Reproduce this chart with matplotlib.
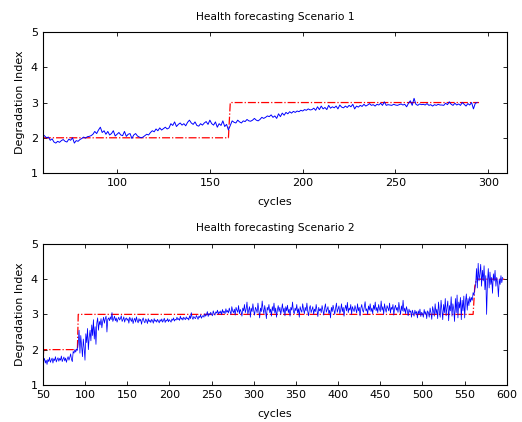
import numpy as np
import matplotlib
matplotlib.use('Agg')
import matplotlib.pyplot as plt

### DATA - scenario 1 (one value per cycle, 60..294)
cyc1 = np.arange(60, 295)
deg1 = [
    2.10, 2.05, 2.00, 2.02, 1.93, 1.97, 1.88, 1.85, 1.90, 1.87,
    1.92, 1.95, 1.90, 1.88, 1.96, 1.93, 2.00, 1.85, 1.92, 1.90,
    1.95, 1.98, 2.02, 1.99, 2.03, 2.04, 2.06, 2.10, 2.18, 2.12,
    2.22, 2.30, 2.15, 2.20, 2.10, 2.18, 2.08, 2.12, 2.20, 2.05,
    2.10, 2.15, 2.08, 2.06, 2.18, 2.04, 2.10, 2.12, 1.98, 2.08,
    2.12, 2.05, 2.02, 2.00, 2.02, 2.06, 2.10, 2.08, 2.15, 2.20,
    2.17, 2.25, 2.20, 2.28, 2.22, 2.26, 2.30, 2.25, 2.28, 2.40,
    2.35, 2.45, 2.32, 2.38, 2.42, 2.36, 2.40, 2.34, 2.44, 2.50,
    2.42, 2.38, 2.45, 2.35, 2.33, 2.40, 2.36, 2.42, 2.46, 2.38,
    2.50, 2.40, 2.36, 2.45, 2.30, 2.40, 2.35, 2.48, 2.32, 2.38,
    2.22, 2.35, 2.48, 2.44, 2.42, 2.50, 2.45, 2.42, 2.48, 2.46,
    2.52, 2.48, 2.47, 2.50, 2.55, 2.50, 2.48, 2.52, 2.58, 2.55,
    2.58, 2.62, 2.60, 2.65, 2.58, 2.62, 2.55, 2.68, 2.60, 2.70,
    2.64, 2.72, 2.68, 2.74, 2.70, 2.75, 2.72, 2.76, 2.74, 2.78,
    2.76, 2.80, 2.78, 2.82, 2.79, 2.80, 2.84, 2.78, 2.88, 2.80,
    2.90, 2.82, 2.86, 2.80, 2.92, 2.84, 2.88, 2.85, 2.90, 2.82,
    2.93, 2.87, 2.85, 2.90, 2.86, 2.92, 2.88, 2.95, 2.82, 2.90,
    2.87, 2.92, 2.89, 2.95, 2.90, 2.93, 2.97, 2.92, 2.94, 2.90,
    2.95, 2.93, 2.98, 2.92, 3.02, 2.92, 2.94, 2.93, 2.92, 2.95,
    2.93, 2.92, 2.94, 2.96, 2.93, 2.95, 2.88, 2.98, 3.05, 2.92,
    3.12, 2.95, 2.92, 2.96, 2.94, 2.95, 2.93, 2.97, 2.92, 2.94,
    2.90, 2.94, 2.92, 2.95, 2.93, 2.93, 2.92, 2.98, 2.94, 3.02,
    2.95, 2.92, 2.98, 2.93, 2.96, 2.92, 3.00, 2.95, 2.90, 2.97,
    2.93, 3.00, 2.82, 2.98, 3.00,
]
ref1_x = [60, 160, 161, 295]
ref1_y = [2, 2, 3, 3]

### DATA - scenario 2 (one value per cycle, 50..595)
cyc2 = np.arange(50, 596)
deg2 = [
    1.52, 1.68, 1.75, 1.62, 1.70, 1.58, 1.72, 1.66, 1.78, 1.64,
    1.70, 1.76, 1.62, 1.74, 1.69, 1.80, 1.65, 1.72, 1.77, 1.67,
    1.75, 1.70, 1.82, 1.66, 1.73, 1.79, 1.68, 1.76, 1.64, 1.74,
    1.80, 1.70, 1.78, 1.88, 1.72, 1.66, 1.95, 1.90, 2.00, 1.93,
    2.02, 1.98, 2.20, 2.55, 1.90, 2.40, 2.10, 1.80, 2.30, 2.05,
    1.70, 2.45, 2.20, 2.60, 2.00, 2.35, 2.55, 2.25, 2.70, 2.40,
    2.85, 2.30, 2.65, 2.15, 2.75, 2.90, 2.55, 2.80, 2.70, 2.88,
    2.62, 2.80, 2.92, 2.75, 2.88, 2.95, 2.50, 2.86, 2.90, 2.82,
    2.93, 2.85, 3.05, 2.80, 2.88, 2.95, 2.82, 2.90, 2.78, 2.86,
    2.92, 2.84, 2.88, 2.96, 2.80, 2.85, 2.93, 2.78, 2.87, 2.90,
    2.83, 2.88, 2.75, 2.92, 2.86, 2.80, 2.90, 2.74, 2.84, 2.89,
    2.78, 2.93, 2.82, 2.76, 2.88, 2.81, 2.86, 2.72, 2.85, 2.90,
    2.80, 2.76, 2.87, 2.83, 2.74, 2.88, 2.79, 2.84, 2.77, 2.86,
    2.82, 2.75, 2.88, 2.80, 2.84, 2.78, 2.86, 2.81, 2.76, 2.85,
    2.80, 2.87, 2.78, 2.83, 2.89, 2.77, 2.84, 2.81, 2.88, 2.79,
    2.85, 2.82, 2.78, 2.87, 2.83, 2.90, 2.81, 2.86, 2.84, 2.92,
    2.85, 2.88, 2.83, 2.95, 2.86, 2.90, 2.84, 2.92, 2.88, 2.85,
    2.93, 2.87, 2.90, 2.84, 2.96, 2.88, 3.05, 2.91, 2.86, 2.94,
    2.90, 2.88, 2.97, 2.92, 2.86, 2.95, 2.91, 2.99, 2.89, 2.94,
    2.97, 2.92, 3.02, 2.95, 2.99, 3.08, 2.94, 3.03, 2.98, 3.06,
    3.00, 2.96, 3.10, 3.02, 2.98, 3.07, 3.04, 3.12, 3.00, 3.08,
    3.03, 3.10, 2.99, 3.14, 3.05, 3.09, 3.02, 3.16, 3.06, 3.11,
    3.04, 3.18, 3.08, 3.00, 3.22, 3.10, 3.05, 3.15, 2.98, 3.20,
    3.12, 3.06, 3.25, 3.02, 3.14, 3.08, 2.95, 3.18, 3.10, 3.28,
    3.05, 3.15, 3.35, 3.00, 3.12, 3.22, 2.92, 3.18, 3.08, 3.30,
    3.10, 2.98, 3.20, 3.14, 3.05, 3.32, 3.12, 2.90, 3.18, 3.08,
    3.38, 3.15, 3.02, 3.25, 3.10, 2.88, 3.20, 3.12, 3.28, 3.05,
    3.15, 2.95, 3.22, 3.10, 3.32, 3.04, 3.18, 2.92, 3.12, 3.25,
    3.08, 3.20, 3.00, 3.14, 3.30, 3.06, 3.18, 2.96, 3.22, 3.10,
    3.26, 3.05, 3.15, 2.95, 3.20, 3.12, 3.35, 3.08, 3.02, 3.18,
    3.10, 3.28, 3.04, 3.16, 2.92, 3.22, 3.12, 3.06, 3.30, 3.14,
    3.02, 3.20, 3.10, 3.32, 3.08, 2.96, 3.18, 3.25, 3.05, 3.14,
    3.22, 3.00, 3.15, 3.08, 3.28, 3.12, 2.94, 3.20, 3.10, 3.16,
    3.05, 3.25, 3.12, 2.98, 3.18, 3.30, 3.06, 3.14, 3.22, 3.02,
    3.12, 2.90, 3.20, 3.08, 3.26, 3.14, 3.00, 3.18, 3.32, 3.06,
    3.15, 3.24, 3.02, 3.12, 3.30, 3.08, 3.20, 2.95, 3.16, 3.26,
    3.10, 3.34, 3.05, 3.18, 3.12, 3.28, 3.00, 3.22, 3.14, 3.08,
    3.25, 3.15, 3.04, 3.30, 3.10, 3.20, 2.96, 3.18, 3.28, 3.12,
    3.06, 3.22, 3.36, 3.10, 3.16, 3.00, 3.24, 3.12, 3.30, 3.08,
    3.18, 3.02, 3.26, 3.14, 3.35, 3.10, 3.20, 3.05, 3.28, 3.16,
    3.08, 3.38, 3.12, 3.22, 3.00, 3.30, 3.15, 3.06, 3.25, 3.18,
    3.10, 3.32, 3.04, 3.20, 3.14, 3.28, 2.98, 3.18, 3.26, 3.12,
    3.20, 3.06, 3.34, 3.15, 3.00, 3.24, 3.10, 3.40, 3.08, 3.18,
    3.02, 3.22, 3.12, 2.96, 3.15, 3.06, 3.10, 2.92, 3.12, 3.04,
    2.95, 3.12, 3.02, 3.08, 2.90, 3.10, 3.00, 3.15, 2.94, 3.06,
    3.02, 2.92, 3.14, 3.00, 3.08, 2.88, 3.10, 3.05, 2.92, 3.18,
    3.04, 2.86, 3.22, 3.10, 2.95, 3.30, 3.02, 3.15, 2.88, 3.35,
    3.08, 2.92, 3.40, 3.12, 2.85, 3.28, 3.05, 3.45, 2.96, 3.20,
    3.38, 2.82, 3.25, 3.10, 3.50, 2.95, 3.30, 3.15, 2.80, 3.45,
    3.05, 3.55, 2.90, 3.35, 3.18, 3.48, 2.85, 3.40, 3.10, 3.52,
    2.90, 3.38, 3.58, 3.12, 3.45, 3.25, 3.50, 3.35, 3.48, 3.40,
    3.62, 3.55, 3.72, 3.85, 4.30, 3.75, 4.45, 3.95, 4.15, 4.42,
    3.80, 4.25, 3.95, 4.38, 3.70, 4.10, 3.00, 3.90, 4.30, 3.75,
    4.20, 3.85, 4.05, 3.60, 4.15, 3.95, 4.25, 3.80, 4.05, 3.90,
    3.50, 4.00, 3.85, 4.10, 3.90, 4.05,
]
ref2_x = [50, 51, 91, 92, 560, 562, 564, 597]
ref2_y = [1.5, 2, 2, 3, 3, 3.8, 4, 4]

plt.rcParams['font.family'] = ['DejaVu Sans']
plt.rcParams['font.size'] = 8

fig = plt.figure(figsize=(5.22, 4.22), dpi=100)
ax1 = fig.add_axes([0.082, 0.590, 0.889, 0.334])
ax2 = fig.add_axes([0.082, 0.088, 0.889, 0.334])

panels = [
    (ax1, cyc1, deg1, ref1_x, ref1_y, (60, 310), [100, 150, 200, 250, 300], 'Health forecasting Scenario 1', 0.7),
    (ax2, cyc2, deg2, ref2_x, ref2_y, (50, 600), list(range(50, 601, 50)), 'Health forecasting Scenario 2', 0.55),
]

for ax, cx, dg, rx, ry, xl, xt, title, lw in panels:
    ax.plot(rx, ry, color='red', linestyle='-.', linewidth=0.9)
    ax.plot(cx, dg[:len(cx)], color='blue', linewidth=lw)
    ax.set_xlim(*xl)
    ax.set_ylim(1, 5)
    ax.set_xticks(xt)
    ax.set_yticks([1, 2, 3, 4, 5])
    ax.tick_params(direction='in', top=True, right=True, length=3, width=0.6, labelsize=8)
    for s in ax.spines.values():
        s.set_linewidth(0.8)
    ax.set_title(title, fontsize=7.7, pad=9)
    ax.set_xlabel('cycles', fontsize=8, labelpad=6.5)
    ax.set_ylabel('Degradation Index', fontsize=8, labelpad=4)

fig.savefig('out.png', dpi=100)
